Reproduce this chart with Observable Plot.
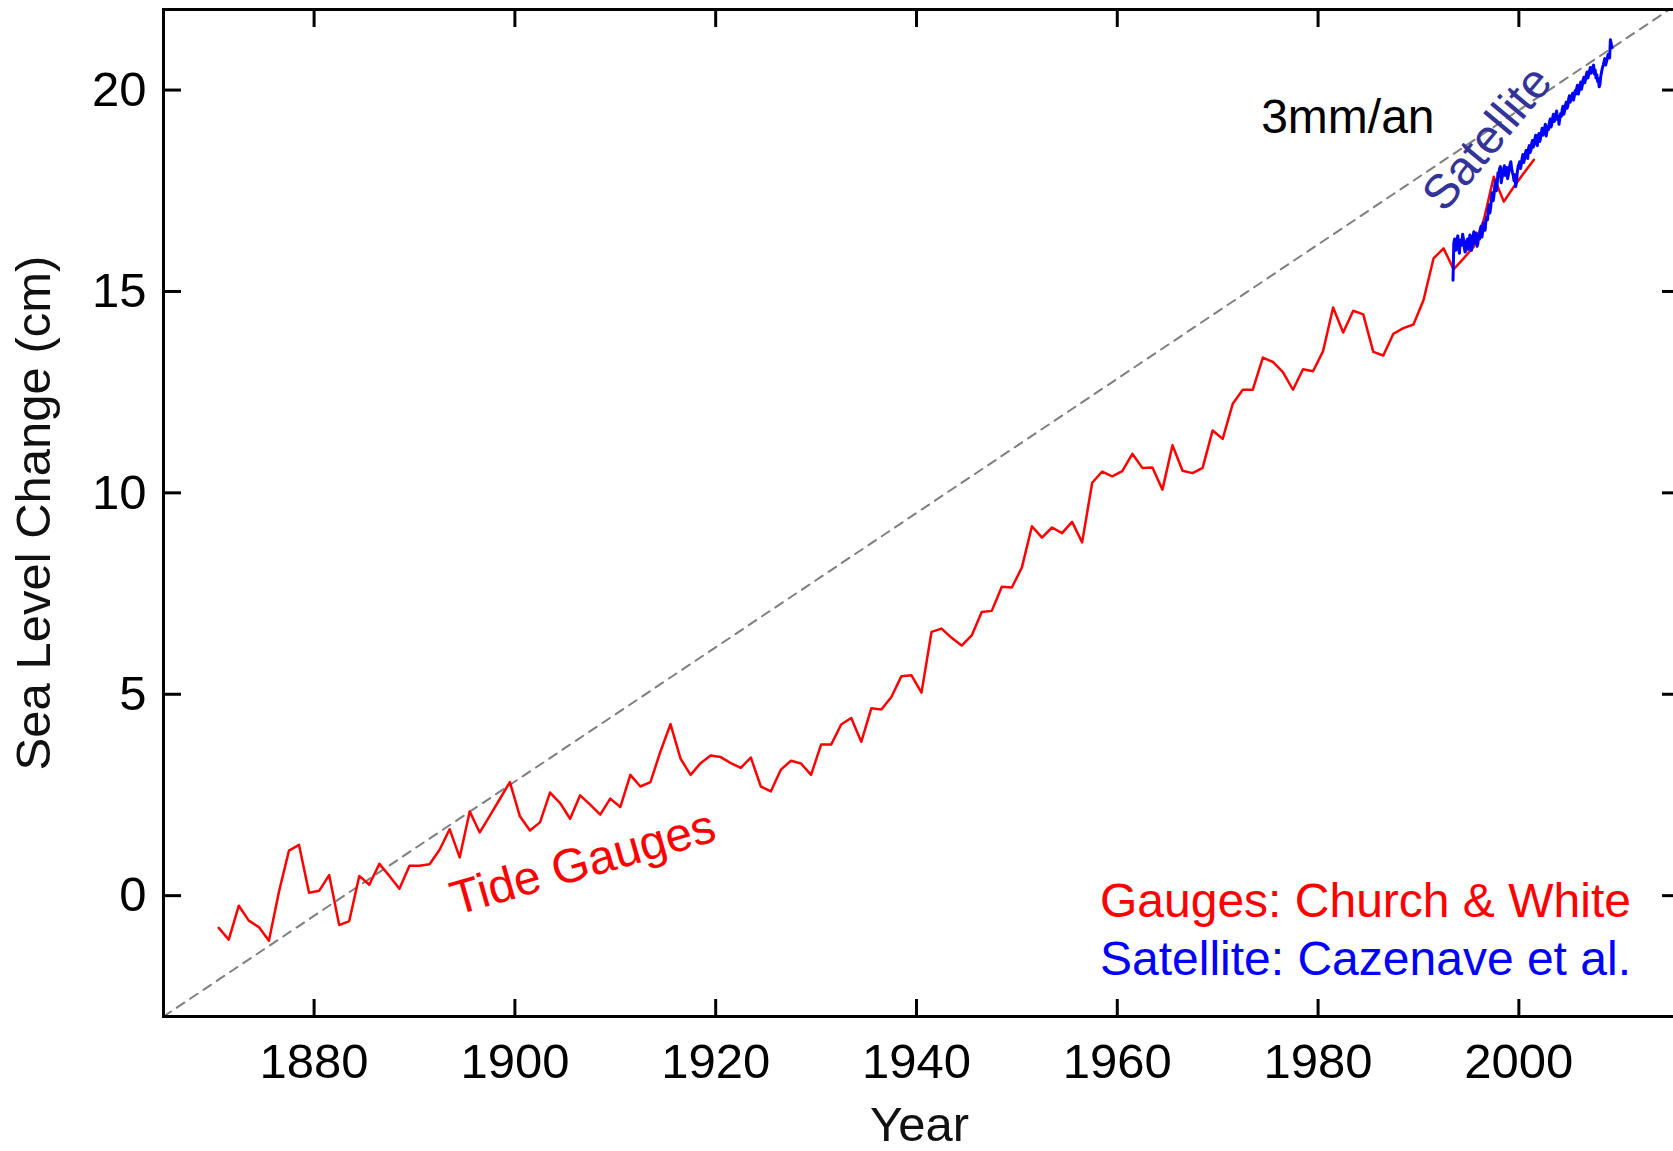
<!DOCTYPE html>
<html>
<head>
<meta charset="utf-8">
<script src="https://cdn.jsdelivr.net/npm/d3@7"></script>
<script src="https://cdn.jsdelivr.net/npm/@observablehq/plot@0.6"></script>
<style>
  html, body { margin: 0; padding: 0; background: #fff; overflow: hidden; }
  #chart svg { display: block; }
</style>
</head>
<body>
<div id="chart"></div>
<script>
// ---- Data ----
// Tide gauges (Church & White), annual means 1870..2001, plotted at mid-year
const gaugeFirstYear = 1870;
const gaugeValues = [
  -0.80, -1.09, -0.25, -0.62, -0.78, -1.12, 0.10, 1.12, 1.26, 0.07,
   0.12,  0.51, -0.73, -0.63,  0.49,  0.27, 0.79, 0.49, 0.17, 0.74,
   0.74,  0.78,  1.14,  1.65,  0.95,  2.09, 1.57, 1.98, 2.40, 2.82,
   1.97,  1.62,  1.82,  2.56,  2.30,  1.91, 2.49, 2.26, 2.01, 2.41,
   2.20,  3.00,  2.71,  2.82,  3.58,  4.26, 3.40, 3.00, 3.29, 3.48,
   3.44,  3.29,  3.17,  3.43,  2.71,  2.59, 3.13, 3.35, 3.28, 3.00,
   3.75,  3.75,  4.25,  4.41,  3.82,  4.65, 4.62, 4.93, 5.45, 5.47,
   5.04,  6.55,  6.63,  6.40,  6.21,  6.46, 7.04, 7.07, 7.67, 7.65,
   8.15,  9.17,  8.89,  9.14,  9.00,  9.28, 8.77, 10.25, 10.53, 10.41,
  10.54, 10.97, 10.62, 10.63, 10.08, 11.18, 10.55, 10.49, 10.62, 11.55,
  11.34, 12.21, 12.56, 12.56, 13.36, 13.25, 13.00, 12.56, 13.07, 13.02,
  13.52, 14.60, 13.98, 14.52, 14.43, 13.50, 13.41, 13.95, 14.09, 14.18,
  14.78, 15.82, 16.07, 15.55, 15.82, 16.11, 16.77, 17.85, 17.23, 17.60,
  17.94, 18.27
];

// Satellite altimetry (Cazenave et al.), regular sampling from 1993.44
const satFirstTime = 1993.44;
const satSampleStep = 0.08;
const satValues = [
  15.28, 16.20, 16.30, 16.02, 16.05, 16.30, 16.38, 16.05, 15.95, 16.28,
  16.22, 16.15, 16.42, 16.30, 16.10, 15.98, 16.02, 16.25, 16.30, 16.05,
  16.18, 16.40, 16.35, 16.02, 16.15, 16.38, 16.48, 16.20, 16.30, 16.45,
  16.12, 16.20, 16.40, 16.30, 16.55, 16.62, 16.35, 16.48, 16.70, 16.58,
  16.52, 16.75, 16.85, 16.78, 17.05, 17.15, 16.95, 17.10, 17.35, 17.45,
  17.25, 17.38, 17.62, 17.75, 17.50, 17.68, 17.95, 17.85, 18.05, 18.10,
  17.70, 17.82, 17.90, 18.05, 18.12, 17.88, 17.92, 18.08, 17.80, 17.90,
  18.05, 18.15, 18.22, 18.05, 17.95, 17.88, 17.75, 17.90, 17.60, 17.70,
  17.95, 18.10, 18.15, 18.22, 18.05, 18.15, 18.30, 18.40, 18.20, 18.28,
  18.42, 18.50, 18.35, 18.30, 18.55, 18.62, 18.45, 18.50, 18.68, 18.75,
  18.58, 18.66, 18.80, 18.88, 18.70, 18.62, 18.85, 18.92, 18.72, 18.80,
  18.95, 19.05, 18.88, 18.95, 19.05, 19.15, 18.86, 18.98, 19.10, 19.02,
  19.20, 19.28, 19.08, 19.15, 19.30, 19.40, 19.22, 19.25, 19.40, 19.48,
  19.28, 19.35, 19.15, 19.30, 19.42, 19.35, 19.52, 19.60, 19.40, 19.48,
  19.62, 19.70, 19.55, 19.60, 19.78, 19.86, 19.70, 19.78, 19.85, 19.92,
  19.75, 19.85, 19.98, 19.90, 20.05, 20.12, 19.90, 19.98, 20.10, 20.20,
  20.02, 20.12, 20.25, 20.32, 20.18, 20.26, 20.38, 20.45, 20.30, 20.38,
  20.48, 20.56, 20.42, 20.48, 20.55, 20.62, 20.40, 20.50, 20.30, 20.38,
  20.22, 20.28, 20.08, 20.15, 20.35, 20.45, 20.55, 20.62, 20.70, 20.78,
  20.62, 20.70, 20.78, 20.88, 20.85, 20.80, 21.25, 21.15, 21.05
];

// Reference trend line (dashed)
const trendYears = [1865, 2015];
const trendValues = [-3, 22];

// Axes
const xDomain = [1865, 2016];
const yDomain = [-3, 22];
const xTicks = [1880, 1900, 1920, 1940, 1960, 1980, 2000];
const yTicks = [0, 5, 10, 15, 20];

// Texts
const xTitle = "Year";
const yTitle = "Sea Level Change (cm)";
const trendLabel = "3mm/an";
const satLabel = "Satellite";
const gaugeLabel = "Tide Gauges";
const sourceGauges = "Gauges: Church & White";
const sourceSatellite = "Satellite: Cazenave et al.";

// ---- Tables built from the arrays ----
const gauges = gaugeValues.map((v, i) => ({year: gaugeFirstYear + i + 0.5, value: v}));
const satellite = satValues.map((v, i) => ({year: satFirstTime + i * satSampleStep, value: v}));
const trend = trendYears.map((yr, i) => ({year: yr, value: trendValues[i]}));

const TICKFONT = 49;
const FONT = 48;
const RED = "#ff0000";
const BLUE = "#0000ff";
const NAVY = "#333399";

const chart = Plot.plot({
  width: 1673,
  height: 1151,
  marginTop: 9,
  marginBottom: 135,
  marginLeft: 163,
  marginRight: -6,
  style: {
    fontFamily: "'Liberation Sans', Arial, Helvetica, sans-serif",
    color: "black",
    background: "white",
    overflow: "hidden"
  },
  x: {domain: xDomain},
  y: {domain: yDomain},
  marks: [
    Plot.line(trend, {x: "year", y: "value", stroke: "#7f7f7f", strokeWidth: 2, strokeDasharray: "9,7"}),
    Plot.line(gauges, {x: "year", y: "value", stroke: RED, strokeWidth: 2.5}),
    Plot.line(satellite, {x: "year", y: "value", stroke: BLUE, strokeWidth: 3}),
    Plot.frame({stroke: "black", strokeWidth: 3}),
    Plot.axisX(xTicks, {anchor: "bottom", tickSize: -17, tickPadding: 44, strokeWidth: 3, fontSize: TICKFONT, label: null, tickFormat: (d) => `${d}`}),
    Plot.axisX(xTicks, {anchor: "top", tickSize: -17, strokeWidth: 3, fill: "none", label: null}),
    Plot.axisY(yTicks, {anchor: "left", tickSize: -18, tickPadding: 35, strokeWidth: 3, fontSize: TICKFONT, label: null, tickFormat: (d) => `${d}`}),
    Plot.axisY(yTicks, {anchor: "right", tickSize: -18, strokeWidth: 3, fill: "none", label: null}),
    // axis titles
    Plot.text([xTitle], {text: (d) => d, frameAnchor: "bottom", textAnchor: "middle", dx: -2, dy: 124, lineAnchor: "bottom", fontSize: TICKFONT, fill: "#111"}),
    Plot.text([yTitle], {text: (d) => d, frameAnchor: "left", textAnchor: "middle", dx: -114, rotate: -90, lineAnchor: "bottom", fontSize: TICKFONT, fill: "#111"}),
    // annotations
    Plot.text([trendLabel], {text: (d) => d, x: 1974.33, y: 18.93, textAnchor: "start", lineAnchor: "bottom", fontSize: FONT, fill: "black"}),
    Plot.text([satLabel], {text: (d) => d, x: 1996.87, y: 18.80, rotate: -50, fontSize: FONT, fill: NAVY}),
    Plot.text([gaugeLabel], {text: (d) => d, x: 1906.78, y: 0.81, rotate: -16, fontSize: FONT, fill: RED}),
    Plot.text([sourceGauges], {text: (d) => d, x: 1958.28, y: -0.54, textAnchor: "start", lineAnchor: "bottom", fontSize: FONT, fill: RED}),
    Plot.text([sourceSatellite], {text: (d) => d, x: 1958.28, y: -1.98, textAnchor: "start", lineAnchor: "bottom", fontSize: FONT, fill: BLUE})
  ]
});

document.getElementById("chart").appendChild(chart);
</script>
</body>
</html>
